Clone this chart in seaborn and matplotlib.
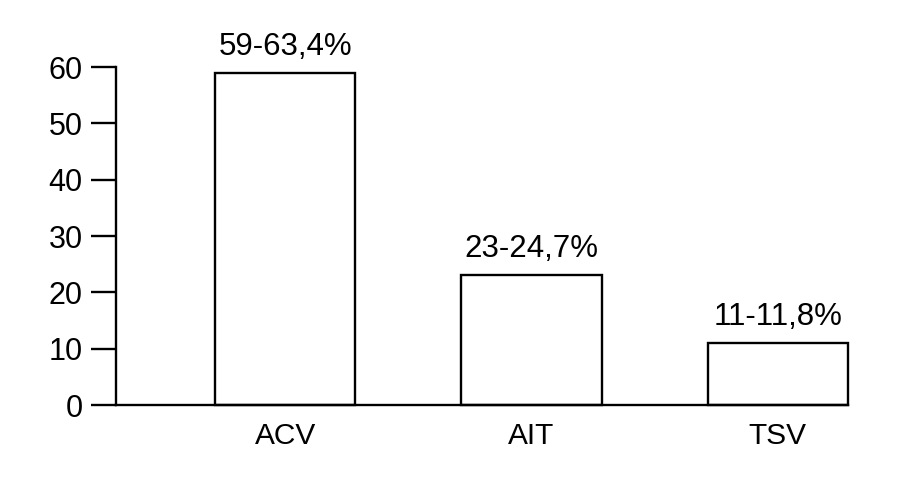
import pandas as pd
import matplotlib.pyplot as plt
import seaborn as sns

# Chart data
categories = ['ACV', 'AIT', 'TSV']
values = [59, 23, 11]
bar_labels = ['59-63,4%', '23-24,7%', '11-11,8%']
y_ticks = [0, 10, 20, 30, 40, 50, 60]


def draw():
    sns.set_style('ticks')
    plt.rcParams['font.family'] = ['Liberation Sans', 'DejaVu Sans']
    plt.rcParams['text.color'] = 'black'
    plt.rcParams['xtick.color'] = 'black'
    plt.rcParams['ytick.color'] = 'black'
    plt.rcParams['axes.edgecolor'] = 'black'

    df = pd.DataFrame({'Category': categories, 'Value': values})

    fig = plt.figure(figsize=(8.97, 4.78), dpi=100)
    ax = fig.add_axes([0.1293, 0.1527, 0.8161, 0.7071])

    sns.barplot(data=df, x='Category', y='Value', color='white',
                edgecolor='black', linewidth=1.7, width=0.57, ax=ax)

    # Labels above the bars
    for patch, label in zip(ax.patches, bar_labels):
        patch.set_clip_on(False)
        ax.annotate(label, (patch.get_x() + patch.get_width() / 2, patch.get_height()),
                    xytext=(0, 8), textcoords='offset points',
                    ha='center', va='bottom', fontsize=22.5, annotation_clip=False)

    ax.set_xlim(-0.687, 2.285)
    ax.set_ylim(0, 60)
    ax.set_yticks(y_ticks)
    ax.set_xlabel('')
    ax.set_ylabel('')

    sns.despine(ax=ax)
    for side in ['left', 'bottom']:
        ax.spines[side].set_linewidth(1.7)
    ax.tick_params(axis='y', length=18, width=1.7, pad=6, labelsize=22)
    ax.tick_params(axis='x', length=0, pad=12, labelsize=21.5)

    fig.savefig('out.png', dpi=100)


if __name__ == '__main__':
    draw()
